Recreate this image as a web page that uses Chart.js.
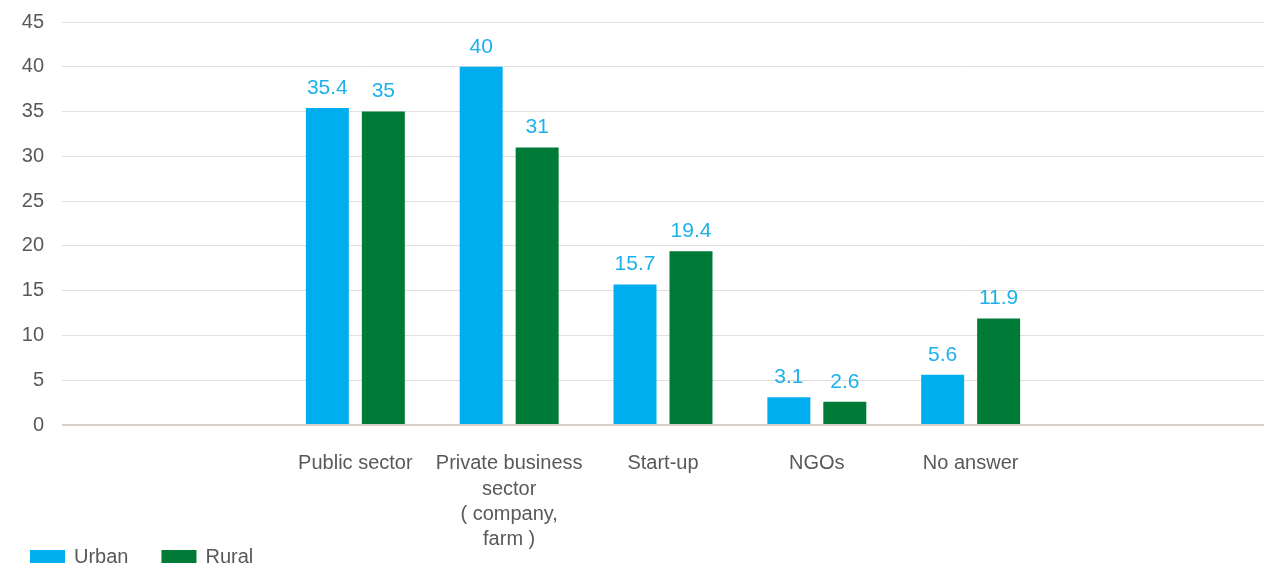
<!DOCTYPE html>
<html>
<head>
<meta charset="utf-8">
<script src="https://cdn.jsdelivr.net/npm/chart.js@4.4.0/dist/chart.umd.min.js"></script>
<style>
  html, body { margin: 0; padding: 0; background: #ffffff; }
  #wrap { width: 1266px; height: 568px; position: relative; }
</style>
</head>
<body>
<div id="wrap"><canvas id="chart"></canvas></div>
<script>
// Sector of preferred employment, urban vs rural (%)
const categories = [
  ['Public sector'],
  ['Private business', 'sector', '( company,', 'farm )'],
  ['Start-up'],
  ['NGOs'],
  ['No answer']
];
const urbanValues = [35.4, 40, 15.7, 3.1, 5.6];
const ruralValues = [35, 31, 19.4, 2.6, 11.9];
const yTickValues = [0, 5, 10, 15, 20, 25, 30, 35, 40, 45];
const seriesNames = ['Urban', 'Rural'];

const URBAN = '#00AEEF';
const RURAL = '#007A37';
const TEXT = '#595959';
const LABEL = '#1DB1EC';
const FONT = '"Liberation Sans", Arial, sans-serif';

// Value printed above every bar
const valueLabels = {
  id: 'valueLabels',
  afterDatasetsDraw(chart) {
    const ctx = chart.ctx;
    ctx.save();
    ctx.font = '21px ' + FONT;
    ctx.fillStyle = LABEL;
    ctx.textAlign = 'center';
    ctx.textBaseline = 'middle';
    chart.data.datasets.forEach((ds, di) => {
      chart.getDatasetMeta(di).data.forEach((bar, i) => {
        ctx.fillText(String(ds.data[i].y), bar.x, bar.y - 20);
      });
    });
    ctx.restore();
  }
};

// Legend in the bottom-left corner
const cornerLegend = {
  id: 'cornerLegend',
  afterDraw(chart) {
    const ctx = chart.ctx;
    ctx.save();
    ctx.font = '20px ' + FONT;
    ctx.textBaseline = 'middle';
    ctx.textAlign = 'left';
    let x = 30;
    const y = 550, bw = 35, bh = 13;
    chart.data.datasets.forEach((ds) => {
      ctx.fillStyle = ds.backgroundColor;
      ctx.fillRect(x, y, bw, bh);
      ctx.fillStyle = TEXT;
      const tx = x + bw + 9;
      ctx.fillText(ds.label, tx, y + bh / 2 + 1);
      x = tx + ctx.measureText(ds.label).width + 33;
    });
    ctx.restore();
  }
};

const toPoints = (vals) => vals.map((v, i) => ({ x: i, y: v }));

new Chart(document.getElementById('chart'), {
  type: 'bar',
  data: {
    datasets: [
      { label: seriesNames[0], data: toPoints(urbanValues), backgroundColor: URBAN },
      { label: seriesNames[1], data: toPoints(ruralValues), backgroundColor: RURAL }
    ]
  },
  options: {
    responsive: true,
    maintainAspectRatio: false,
    animation: false,
    categoryPercentage: 0.7277,
    barPercentage: 0.768,
    layout: { padding: { top: 22, right: 2, bottom: 0, left: 0 } },
    plugins: {
      legend: { display: false },
      tooltip: { enabled: false }
    },
    scales: {
      x: {
        type: 'linear',
        offset: false,
        min: -1.907,
        max: 5.907,
        grid: { display: false, drawTicks: false },
        border: { display: false },
        afterBuildTicks: (scale) => {
          scale.ticks = categories.map((_, i) => ({ value: i }));
        },
        afterFit: (scale) => {
          scale.height = 143;
          scale.paddingLeft = 0;
          scale.paddingRight = 0;
        },
        ticks: {
          autoSkip: false,
          maxRotation: 0,
          padding: 26,
          color: TEXT,
          font: { family: FONT, size: 20, lineHeight: 1.27 },
          callback: (value) => categories[value] || ''
        }
      },
      y: {
        min: 0,
        max: 45,
        afterBuildTicks: (scale) => {
          scale.ticks = yTickValues.map((v) => ({ value: v }));
        },
        afterFit: (scale) => {
          scale.width = 62;
          scale.paddingTop = 0;
          scale.paddingBottom = 0;
        },
        grid: {
          drawTicks: false,
          color: (c) => (c.tick && c.tick.value === 0 ? '#D9D0C9' : '#E4DEDA'),
          lineWidth: (c) => (c.tick && c.tick.value === 0 ? 2 : 1)
        },
        border: { display: false },
        ticks: {
          padding: 18,
          color: TEXT,
          font: { family: FONT, size: 20 }
        }
      }
    }
  },
  plugins: [valueLabels, cornerLegend]
});
</script>
</body>
</html>
